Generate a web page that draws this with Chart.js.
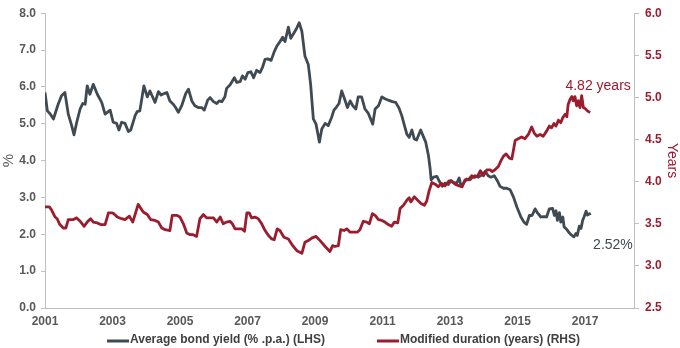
<!DOCTYPE html>
<html>
<head>
<meta charset="utf-8">
<script src="https://cdn.jsdelivr.net/npm/chart.js@4.4.0/dist/chart.umd.min.js"></script>
<style>
  html, body { margin: 0; padding: 0; background: #ffffff; }
  #wrap { width: 680px; height: 348px; }
</style>
</head>
<body>
<div id="wrap"><canvas id="chart" width="680" height="348"></canvas></div>
<script>
// Average bond yield, % p.a. (decimal year, value)
const yieldDates = [
  2001.00,2001.07,2001.15,2001.25,2001.39,2001.49,2001.59,2001.69,2001.79,2001.86,2001.94,
  2002.04,2002.12,2002.19,2002.25,2002.33,2002.43,2002.55,2002.68,2002.78,2002.93,
  2003.02,2003.12,2003.19,2003.27,2003.37,2003.47,2003.54,2003.67,2003.73,2003.81,2003.93,
  2004.03,2004.11,2004.26,2004.36,2004.44,2004.53,2004.61,2004.70,2004.80,2004.87,2004.95,
  2005.05,2005.17,2005.25,2005.35,2005.44,2005.54,2005.64,2005.72,2005.82,2005.89,2005.99,
  2006.09,2006.16,2006.24,2006.33,2006.38,2006.48,2006.61,2006.68,2006.78,2006.85,2006.93,
  2007.01,2007.10,2007.18,2007.27,2007.37,2007.44,2007.52,2007.60,2007.70,2007.79,2007.87,2007.94,
  2008.04,2008.11,2008.21,2008.28,2008.38,2008.46,2008.53,2008.61,2008.70,2008.80,2008.87,2008.95,
  2009.03,2009.13,2009.20,2009.30,2009.39,2009.49,2009.56,2009.64,2009.71,2009.79,2009.86,2009.96,
  2010.04,2010.12,2010.21,2010.28,2010.38,2010.48,2010.58,2010.71,2010.78,2010.88,2010.98,
  2011.07,2011.17,2011.29,2011.39,2011.49,2011.57,2011.65,2011.72,2011.79,2011.87,2011.94,
  2012.01,2012.13,2012.21,2012.28,2012.36,2012.41,2012.44,2012.51,2012.61,2012.67,2012.77,2012.85,2012.95,
  2013.03,2013.10,2013.20,2013.27,2013.33,2013.39,2013.49,2013.59,2013.66,2013.74,2013.84,2013.96,
  2014.04,2014.13,2014.21,2014.31,2014.41,2014.48,2014.58,2014.68,2014.78,2014.88,2014.98,
  2015.10,2015.19,2015.27,2015.35,2015.43,2015.52,2015.59,2015.69,2015.79,2015.86,2015.94,
  2016.04,2016.09,2016.14,2016.18,2016.24,2016.28,2016.34,2016.38,2016.46,2016.53,2016.61,2016.67,2016.73,2016.77,2016.83,2016.88,2016.93,2016.97,
  2017.03,2017.07,2017.13,2017.15
];
const yieldValues = [
  5.85,5.35,5.27,5.13,5.53,5.76,5.85,5.26,4.95,4.70,5.04,
  5.40,5.55,5.53,6.03,5.80,6.07,5.80,5.58,5.26,5.37,
  5.04,5.01,4.83,5.04,5.01,4.79,4.83,5.22,5.33,5.35,6.03,
  5.73,5.89,5.58,5.87,5.78,5.82,5.85,5.62,5.53,5.44,5.31,
  5.49,5.82,5.94,5.62,5.49,5.44,5.44,5.37,5.64,5.71,5.60,
  5.55,5.62,5.60,5.73,5.96,6.05,6.25,6.12,6.14,6.30,6.21,
  6.39,6.41,6.25,6.45,6.39,6.52,6.75,6.76,6.72,6.95,7.11,7.20,
  7.35,7.23,7.62,7.32,7.47,7.60,7.74,7.51,6.84,6.61,6.07,5.13,
  4.99,4.50,4.86,5.01,4.95,5.17,5.37,5.46,5.55,5.89,5.71,5.44,
  5.62,5.49,5.40,5.73,5.73,5.40,5.28,4.99,5.40,5.49,5.73,
  5.68,5.64,5.60,5.58,5.42,5.22,4.95,4.72,4.63,4.83,4.59,
  4.56,4.83,4.65,4.50,4.14,3.78,3.48,3.55,3.57,3.46,3.30,3.39,3.35,
  3.46,3.41,3.39,3.53,3.30,3.37,3.50,3.48,3.55,3.59,3.55,3.62,
  3.71,3.59,3.55,3.59,3.44,3.30,3.25,3.25,3.21,3.01,2.74,
  2.47,2.33,2.27,2.51,2.51,2.69,2.58,2.47,2.48,2.47,2.69,
  2.70,2.51,2.64,2.38,2.59,2.33,2.47,2.20,2.13,2.04,1.97,1.93,2.02,1.97,2.22,2.16,2.38,2.47,
  2.63,2.52,2.56,2.52
];

// Modified duration, years (decimal year, value)
const durationDates = [
  2001.00,2001.13,2001.20,2001.30,2001.36,2001.44,2001.54,2001.62,2001.69,2001.84,2001.94,
  2002.04,2002.16,2002.25,2002.35,2002.43,2002.55,2002.65,2002.78,2002.88,2002.98,
  2003.04,2003.14,2003.27,2003.37,2003.50,2003.60,2003.76,2003.91,
  2004.03,2004.13,2004.26,2004.36,2004.46,2004.56,2004.70,2004.77,2004.90,
  2005.00,2005.10,2005.20,2005.30,2005.39,2005.49,2005.59,2005.69,2005.79,2005.89,2005.99,
  2006.09,2006.19,2006.28,2006.38,2006.48,2006.55,2006.63,2006.73,2006.83,2006.91,2006.98,
  2007.05,2007.12,2007.22,2007.32,2007.42,2007.52,2007.62,2007.72,2007.79,2007.88,2007.96,
  2008.08,2008.21,2008.34,2008.46,2008.61,2008.70,2008.80,2008.90,
  2009.03,2009.15,2009.30,2009.44,2009.52,2009.59,2009.69,2009.76,2009.86,2009.94,
  2010.04,2010.13,2010.25,2010.33,2010.43,2010.53,2010.61,2010.70,2010.78,2010.88,2010.98,
  2011.07,2011.17,2011.27,2011.35,2011.45,2011.52,2011.62,2011.72,2011.79,2011.84,2011.94,
  2012.04,2012.14,2012.24,2012.31,2012.38,2012.46,2012.56,2012.65,2012.75,2012.85,2012.97,
  2013.05,2013.15,2013.27,2013.36,2013.44,2013.54,2013.64,2013.72,2013.82,2013.90,2013.99,
  2014.09,2014.19,2014.25,2014.33,2014.43,2014.51,2014.58,2014.66,2014.76,2014.83,2014.93,
  2015.02,2015.12,2015.22,2015.32,2015.42,2015.49,2015.57,2015.67,2015.76,2015.86,2015.94,
  2016.01,2016.08,2016.14,2016.21,2016.28,2016.34,2016.41,2016.46,2016.50,2016.56,2016.61,2016.65,2016.70,2016.75,2016.80,2016.85,2016.90,2016.95,
  2017.00,2017.07,2017.15
];
const durationValues = [
  3.70,3.70,3.66,3.58,3.56,3.49,3.45,3.45,3.55,3.55,3.57,
  3.53,3.47,3.52,3.56,3.52,3.51,3.49,3.49,3.63,3.63,
  3.62,3.58,3.56,3.55,3.59,3.52,3.73,3.64,
  3.61,3.55,3.54,3.52,3.45,3.43,3.42,3.60,3.60,
  3.58,3.50,3.39,3.37,3.37,3.35,3.56,3.61,3.57,3.57,3.57,
  3.52,3.58,3.50,3.52,3.53,3.50,3.44,3.44,3.44,3.41,3.63,
  3.63,3.57,3.58,3.56,3.50,3.42,3.36,3.32,3.31,3.44,3.42,
  3.34,3.32,3.24,3.18,3.15,3.28,3.30,3.33,
  3.35,3.30,3.23,3.17,3.24,3.23,3.24,3.43,3.42,3.44,
  3.40,3.40,3.40,3.43,3.53,3.52,3.50,3.62,3.60,3.55,3.54,
  3.52,3.49,3.47,3.52,3.51,3.68,3.72,3.78,3.81,3.76,3.82,
  3.78,3.74,3.72,3.77,3.89,3.99,3.97,3.94,3.98,3.95,4.01,
  4.00,3.97,3.95,3.94,4.02,4.02,4.07,4.05,4.07,4.13,4.07,
  4.14,4.14,4.12,4.14,4.18,4.25,4.30,4.33,4.28,4.27,4.49,
  4.51,4.53,4.51,4.56,4.65,4.58,4.54,4.56,4.54,4.60,4.66,
  4.64,4.69,4.66,4.73,4.70,4.76,4.80,4.77,4.92,4.98,5.01,4.96,5.01,4.90,4.96,4.88,5.02,4.88,
  4.87,4.84,4.82
];

const seriesNames = ['Average bond yield (% .p.a.) (LHS)', 'Modified duration (years) (RHS)'];
const yearTicks = [2001, 2003, 2005, 2007, 2009, 2011, 2013, 2015, 2017];
const yieldTicks = [0, 1, 2, 3, 4, 5, 6, 7, 8];
const durationTicks = [2.5, 3, 3.5, 4, 4.5, 5, 5.5, 6];

const GREY = '#3F4A52';
const RED = '#9C1C2E';
const LABEL_GREY = '#595959';
const AXIS_LINE = '#BFBFBF';
const FONT = '"Liberation Sans", Arial, sans-serif';

const toPoints = (xs, ys) => xs.map((x, i) => ({ x: x, y: ys[i] }));

// End-of-line value labels and the bottom legend
const overlay = {
  id: 'overlay',
  afterDatasetsDraw(chart) {
    const ctx = chart.ctx;
    ctx.save();
    const lastPoint = (i) => {
      const pts = chart.getDatasetMeta(i).data;
      return pts[pts.length - 1];
    };
    ctx.font = '14px ' + FONT;
    ctx.textBaseline = 'middle';

    const pd = lastPoint(1);
    ctx.fillStyle = RED;
    ctx.textAlign = 'center';
    ctx.fillText(durationValues[durationValues.length - 1].toFixed(2) + ' years', pd.x + 8, pd.y - 26);

    const py = lastPoint(0);
    ctx.fillStyle = GREY;
    ctx.textAlign = 'left';
    ctx.fillText(yieldValues[yieldValues.length - 1].toFixed(2) + '%', py.x + 3, py.y + 30);

    // legend
    ctx.font = 'bold 12px ' + FONT;
    const sample = 22, gapText = 1, gapItem = 52;
    const items = chart.data.datasets.map(ds => ({
      text: ds.label, color: ds.borderColor, w: sample + gapText + ctx.measureText(ds.label).width
    }));
    const total = items.reduce((s, it) => s + it.w, 0) + gapItem * (items.length - 1);
    let x = 343.5 - total / 2;
    const y = 340;
    items.forEach(it => {
      ctx.strokeStyle = it.color;
      ctx.lineWidth = 3;
      ctx.beginPath();
      ctx.moveTo(x, y + 1);
      ctx.lineTo(x + sample, y + 1);
      ctx.stroke();
      ctx.fillStyle = '#404040';
      ctx.textAlign = 'left';
      ctx.fillText(it.text, x + sample + gapText, y);
      x += it.w + gapItem;
    });
    ctx.restore();
  }
};

new Chart(document.getElementById('chart'), {
  type: 'line',
  data: {
    datasets: [
      {
        label: seriesNames[0],
        data: toPoints(yieldDates, yieldValues),
        borderColor: GREY,
        backgroundColor: GREY,
        borderWidth: 2.8,
        pointRadius: 0,
        borderJoinStyle: 'round',
        tension: 0,
        yAxisID: 'y',
        order: 2
      },
      {
        label: seriesNames[1],
        data: toPoints(durationDates, durationValues),
        borderColor: RED,
        backgroundColor: RED,
        borderWidth: 2.8,
        pointRadius: 0,
        borderJoinStyle: 'round',
        tension: 0,
        yAxisID: 'y2',
        order: 1
      }
    ]
  },
  options: {
    responsive: false,
    animation: false,
    devicePixelRatio: 1,
    layout: { padding: { top: 5, bottom: 18, left: 0, right: 0 } },
    plugins: {
      legend: { display: false },
      tooltip: { enabled: false }
    },
    scales: {
      x: {
        type: 'linear',
        position: 'bottom',
        min: 2001,
        max: 2018.45,
        afterBuildTicks: s => { s.ticks = yearTicks.map(v => ({ value: v })); },
        afterFit: s => { s.height = 22; },
        ticks: {
          autoSkip: false,
          maxRotation: 0,
          padding: 6,
          color: LABEL_GREY,
          font: { family: FONT, size: 12, weight: 'bold' },
          callback: v => String(v)
        },
        grid: { display: false, drawTicks: false },
        border: { display: true, color: AXIS_LINE, width: 1 }
      },
      y: {
        type: 'linear',
        position: 'left',
        min: 0,
        max: 8,
        afterBuildTicks: s => { s.ticks = yieldTicks.map(v => ({ value: v })); },
        afterFit: s => { s.width = 45; },
        ticks: {
          padding: 5,
          color: LABEL_GREY,
          font: { family: FONT, size: 12, weight: 'bold' },
          callback: v => v.toFixed(1)
        },
        grid: { drawOnChartArea: false, drawTicks: true, tickLength: 4, color: AXIS_LINE },
        border: { display: true, color: AXIS_LINE, width: 1 },
        title: { display: true, text: '%', color: LABEL_GREY, padding: 0, font: { family: FONT, size: 15 } }
      },
      y2: {
        type: 'linear',
        position: 'right',
        min: 2.5,
        max: 6,
        afterBuildTicks: s => { s.ticks = durationTicks.map(v => ({ value: v })); },
        afterFit: s => { s.width = 46; },
        ticks: {
          padding: 6,
          color: RED,
          font: { family: FONT, size: 12, weight: 'bold' },
          callback: v => v.toFixed(1)
        },
        grid: { drawOnChartArea: false, drawTicks: true, tickLength: 5, color: AXIS_LINE },
        border: { display: true, color: AXIS_LINE, width: 1 },
        title: { display: true, text: 'Years', color: RED, padding: 0, font: { family: FONT, size: 14 } }
      }
    }
  },
  plugins: [overlay]
});
</script>
</body>
</html>
